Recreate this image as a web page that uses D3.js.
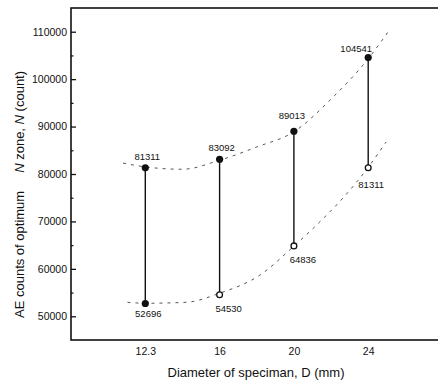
<!DOCTYPE html>
<html>
<head>
<meta charset="utf-8">
<script src="https://cdn.jsdelivr.net/npm/d3@7"></script>
<style>
  body { margin: 0; background: #fff; }
  svg { display: block; font-family: Arial, "Liberation Sans", sans-serif; }
</style>
</head>
<body>
<div id="chart"></div>
<script>
// DATA
const diameters = ['12.3', '16', '20', '24'];
const upperCounts = [81311, 83092, 89013, 104541];
const lowerCounts = [52696, 54530, 64836, 81311];
const lowerFilled = [true, false, false, false];
const yTicks = [50000, 60000, 70000, 80000, 90000, 100000, 110000];
const yMinorTicks = [55000, 65000, 75000, 85000, 95000, 105000];
// fit curves: [category index, count]
const upperFit = [[-0.3, 82300], [0, 81500], [0.5, 81000], [1, 82900], [1.5, 85700], [2, 88900], [2.5, 95800], [3, 104300], [3.27, 110000]];
const lowerFit = [[-0.24, 52950], [0, 52750], [0.55, 52950], [1, 54860], [1.54, 58660], [2, 64790], [2.4, 70700], [2.66, 74930], [3, 81400], [3.24, 86760]];

const W = 438, H = 383;
const m = { top: 8, left: 71, bottom: 340 };

const svg = d3.select('#chart').append('svg').attr('width', W).attr('height', H);

// SCALES
const x = d3.scaleLinear().domain([-1, 4]).range([m.left, m.left + 5 * 74.3]);
const y = d3.scaleLinear().domain([45000, 115000]).range([m.bottom, m.top]);

// FRAME
svg.append('rect')
  .attr('x', m.left).attr('y', m.top)
  .attr('width', W + 10 - m.left).attr('height', m.bottom - m.top)
  .attr('fill', 'none').attr('stroke', '#111').attr('stroke-width', 1.6);

// Y AXIS (inward ticks)
const yAxis = svg.append('g')
  .attr('transform', `translate(${m.left},0)`)
  .call(d3.axisRight(y).tickValues(yTicks).tickSize(5).tickFormat(d3.format('d')));
yAxis.select('.domain').remove();
yAxis.selectAll('line').attr('stroke', '#111').attr('stroke-width', 1.3);
yAxis.selectAll('text')
  .attr('x', -4).attr('text-anchor', 'end')
  .attr('font-size', 10.5).attr('fill', '#111');

svg.append('g')
  .attr('transform', `translate(${m.left},0)`)
  .call(d3.axisRight(y).tickValues(yMinorTicks).tickSize(2.5).tickFormat(''))
  .call(g => g.select('.domain').remove())
  .selectAll('line').attr('stroke', '#111').attr('stroke-width', 1.2);

// X AXIS LABELS (no tick marks)
const xAxis = svg.append('g')
  .attr('transform', `translate(0,${m.bottom})`)
  .call(d3.axisBottom(x).tickValues(d3.range(diameters.length)).tickSize(0).tickPadding(8).tickFormat(i => diameters[i]));
xAxis.select('.domain').remove();
xAxis.selectAll('text').attr('font-size', 10.5).attr('fill', '#111');

// FIT CURVES
const line = d3.line().x(d => x(d[0])).y(d => y(d[1])).curve(d3.curveMonotoneX);
[upperFit, lowerFit].forEach(pts => {
  svg.append('path')
    .datum(pts)
    .attr('d', line)
    .attr('fill', 'none')
    .attr('stroke', '#555')
    .attr('stroke-width', 1)
    .attr('stroke-dasharray', '3,5');
});

// CONNECTORS
svg.selectAll('.conn')
  .data(diameters)
  .enter()
  .append('line')
  .attr('x1', (_, i) => x(i)).attr('x2', (_, i) => x(i))
  .attr('y1', (_, i) => y(upperCounts[i])).attr('y2', (_, i) => y(lowerCounts[i]))
  .attr('stroke', '#111').attr('stroke-width', 1.4);

// POINTS
svg.selectAll('.up')
  .data(upperCounts)
  .enter()
  .append('circle')
  .attr('cx', (_, i) => x(i)).attr('cy', d => y(d))
  .attr('r', 3.6).attr('fill', '#111');

svg.selectAll('.low')
  .data(lowerCounts)
  .enter()
  .append('circle')
  .attr('cx', (_, i) => x(i)).attr('cy', d => y(d))
  .attr('r', (_, i) => lowerFilled[i] ? 3.6 : 2.9)
  .attr('fill', (_, i) => lowerFilled[i] ? '#111' : '#fff')
  .attr('stroke', (_, i) => lowerFilled[i] ? 'none' : '#111')
  .attr('stroke-width', 1.3);

// VALUE LABELS
const upOff = [[2, -8], [2, -8], [-2, -12], [-12, -6]];
const lowOff = [[3, 14], [9, 17], [9, 17], [3, 20]];

svg.selectAll('.uplab')
  .data(upperCounts)
  .enter()
  .append('text')
  .attr('x', (_, i) => x(i) + upOff[i][0]).attr('y', (d, i) => y(d) + upOff[i][1])
  .attr('text-anchor', 'middle').attr('font-size', 9.5).attr('fill', '#111')
  .text(d => d);

svg.selectAll('.lowlab')
  .data(lowerCounts)
  .enter()
  .append('text')
  .attr('x', (_, i) => x(i) + lowOff[i][0]).attr('y', (d, i) => y(d) + lowOff[i][1])
  .attr('text-anchor', 'middle').attr('font-size', 9.5).attr('fill', '#111')
  .text(d => d);

// AXIS TITLES
svg.append('text')
  .attr('x', 256).attr('y', 377)
  .attr('text-anchor', 'middle').attr('font-size', 13).attr('fill', '#111')
  .text('Diameter of speciman, D (mm)');

const yt = svg.append('text')
  .attr('transform', 'translate(24,318) rotate(-90)')
  .attr('font-size', 13).attr('fill', '#111');
yt.append('tspan').text('AE counts of optimum');
yt.append('tspan').attr('dx', 18).attr('font-style', 'italic').text('N');
yt.append('tspan').text(' zone, ');
yt.append('tspan').attr('font-style', 'italic').text('N');
yt.append('tspan').text(' (count)');
</script>
</body>
</html>
